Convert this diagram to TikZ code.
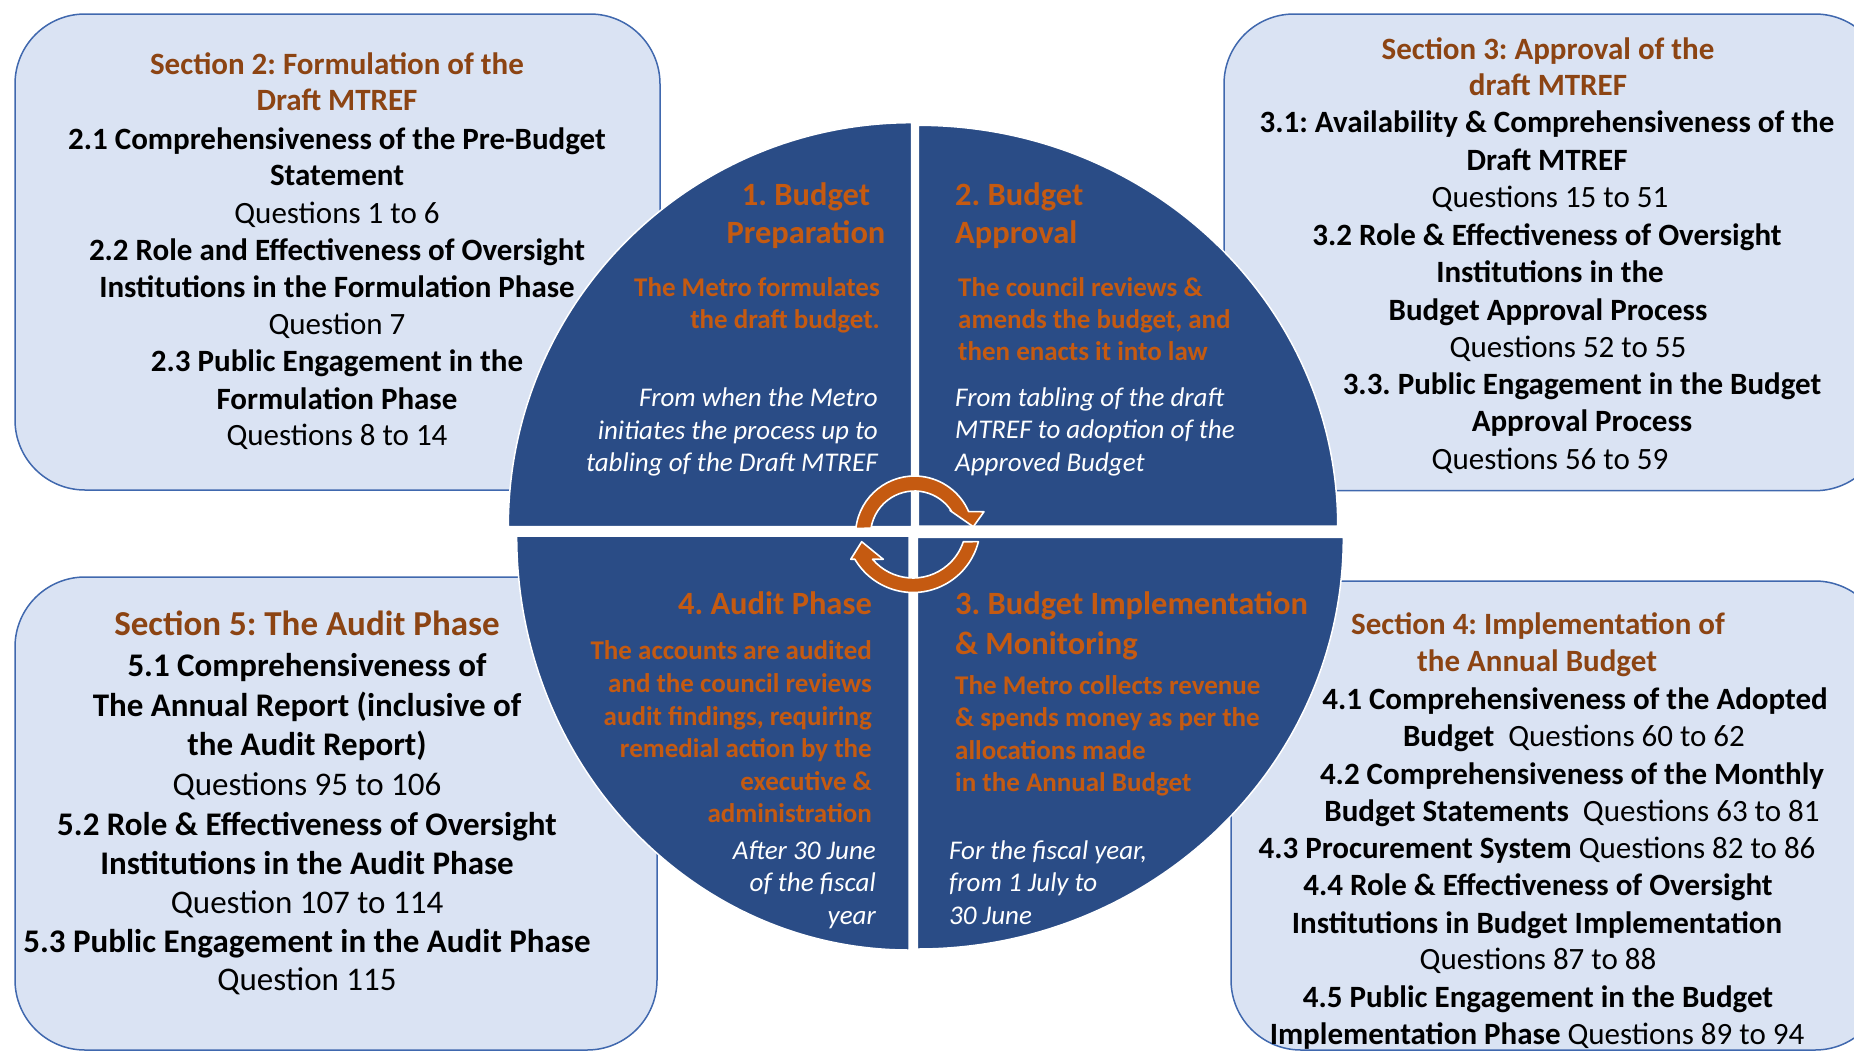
\documentclass[tikz,border=0pt]{standalone}
\usepackage{fontspec}
\setmainfont{Carlito}
\usetikzlibrary{calc}
\definecolor{circblue}{HTML}{2A4C86}
\definecolor{boxfill}{HTML}{DAE3F3}
\definecolor{boxline}{HTML}{4068AE}
\definecolor{secbrown}{HTML}{8C4413}
\definecolor{phorange}{HTML}{C55A11}
\frenchspacing
\begin{document}
\begin{tikzpicture}[x=1pt,y=1pt,
  secbox/.style={draw=boxline, line width=1.5pt, fill=boxfill, rounded corners=70pt},
  quad/.style={fill=circblue, draw=white, line width=1.5pt},
  cyc/.style={fill=phorange, draw=white, line width=1.6pt, line join=round},
  bx/.style={inner sep=0pt, anchor=mid, yshift=-8.5pt, font=\fontsize{31}{37}\selectfont\bfseries},
  sec/.style={bx, text=secbrown},
  bd/.style={bx, text=black},
  qs/.style={bx, text=black, font=\fontsize{31}{37}\selectfont\mdseries},
  sec5/.style={bx, yshift=-1.5pt, text=secbrown, font=\fontsize{35}{42}\selectfont\bfseries},
  bd5/.style={bx, yshift=-1pt, text=black, font=\fontsize{33}{40}\selectfont\bfseries},
  qs5/.style={bx, yshift=-1pt, text=black, font=\fontsize{33}{40}\selectfont\mdseries},
  ttl/.style={inner sep=0pt, yshift=-6.5pt, text=phorange, font=\fontsize{32.5}{39}\selectfont\bfseries},
  orb/.style={inner sep=0pt, yshift=-6pt, text=phorange, font=\fontsize{27}{32}\selectfont\bfseries},
  itw/.style={inner sep=0pt, yshift=-5.5pt, text=white, font=\fontsize{27}{32}\selectfont\itshape}
]
\useasboundingbox (0,0) rectangle (1854,-1052);
\clip (0,0) rectangle (1854,-1052);

% section boxes
\path[secbox] (15,-14) rectangle (660,-490);
\path[secbox] (1224,-14) rectangle (1885,-490.7);
\path[secbox] (15,-577) rectangle (657,-1050);
\path[secbox] (1231,-581) rectangle (1885,-1050);

% circle quadrants
\path[quad] (911.7,-526.7) -- (508.3,-526.7) arc[start angle=180,end angle=90,x radius=403.4,y radius=404] -- cycle;
\path[quad] (918.3,-526) -- (918.3,-125.3) arc[start angle=90,end angle=0,x radius=419.4,y radius=400.7] -- cycle;
\path[quad] (909,-536) -- (909,-950) arc[start angle=270,end angle=180,x radius=392.3,y radius=414] -- cycle;
\path[quad] (917.3,-537.3) -- (1343.3,-537.3) arc[start angle=0,end angle=-90,x radius=426,y radius=411.7] -- cycle;

% cycle arrows
\path[cyc] ([shift={(914.5,-535)}]173.5:59) arc[start angle=173.5,end angle=23.3,radius=59]
  -- (984,-511.7) -- (973.3,-526.7) -- (950,-510.5)
  -- ([shift={(914.5,-535)}]32:44) arc[start angle=32,end angle=171.2,radius=44] -- cycle;
\path[cyc] ([shift={(913,-525)}]-14.3:67.5) arc[start angle=-14.3,end angle=-149.5,radius=67.5]
  -- (850.7,-559.3) -- (861.7,-541.7) -- (883.3,-559.3)
  -- ([shift={(913,-525)}]-139.7:53) arc[start angle=-139.7,end angle=-18.4,radius=53] -- cycle;

% box 2
\foreach \yy/\st/\tx [count=\i] in {
  63.3/sec/{Section 2: Formulation of the},
  100/sec/{Draft MTREF},
  138.3/bd/{2.1 Comprehensiveness of the Pre-Budget},
  175/bd/{Statement},
  212.3/qs/{Questions 1 to 6},
  249.3/bd/{2.2 Role and Effectiveness of Oversight},
  286.7/bd/{Institutions in the Formulation Phase},
  324/qs/{Question 7},
  361/bd/{2.3 Public Engagement in the},
  398.3/bd/{Formulation Phase},
  435/qs/{Questions 8 to 14}}
  \node[\st] (bA-\i) at (337,-\yy) {\tx};

% box 3
\foreach \yy/\xx/\st/\tx [count=\i] in {
  48.3/1548/sec/{Section 3: Approval of the},
  85/1548/sec/{draft MTREF},
  121.7/1547/bd/{3.1: Availability \& Comprehensiveness of the},
  159.3/1547/bd/{Draft MTREF},
  196.7/1550/qs/{Questions 15 to 51},
  234.3/1547/bd/{3.2 Role \& Effectiveness of Oversight},
  271.7/1550/bd/{Institutions in the},
  309.3/1548/bd/{Budget Approval Process},
  346.7/1568/qs/{Questions 52 to 55},
  384/1582/bd/{3.3. Public Engagement in the Budget},
  420.7/1582/bd/{Approval Process},
  458.3/1550/qs/{Questions 56 to 59}}
  \node[\st] (bB-\i) at (\xx,-\yy) {\tx};

% box 4
\foreach \yy/\xx/\st/\tx [count=\i] in {
  623.3/1538/sec/{Section 4: Implementation of},
  660.7/1537/sec/{the Annual Budget},
  698.3/1575/bd/{4.1 Comprehensiveness of the Adopted},
  735.7/1574/bd/{Budget\ \ \mdseries Questions 60 to 62},
  773.3/1572/bd/{4.2 Comprehensiveness of the Monthly},
  810.7/1572/bd/{Budget Statements\ \ \mdseries Questions 63 to 81},
  847.3/1537/bd/{4.3 Procurement System \mdseries Questions 82 to 86},
  885/1538/bd/{4.4 Role \& Effectiveness of Oversight},
  922.3/1537/bd/{Institutions in Budget Implementation},
  959/1538/qs/{Questions 87 to 88},
  996.7/1538/bd/{4.5 Public Engagement in the Budget},
  1033.3/1537/bd/{Implementation Phase \mdseries Questions 89 to 94}}
  \node[\st] (bC-\i) at (\xx,-\yy) {\tx};

% box 5
\foreach \yy/\st/\tx [count=\i] in {
  623.3/sec5/{Section 5: The Audit Phase},
  665/bd5/{5.1 Comprehensiveness of},
  705/bd5/{The Annual Report (inclusive of},
  743.3/bd5/{the Audit Report)},
  784/qs5/{Questions 95 to 106},
  823.3/bd5/{5.2 Role \& Effectiveness of Oversight},
  862.7/bd5/{Institutions in the Audit Phase},
  901.7/qs5/{Question 107 to 114},
  941/bd5/{5.3 Public Engagement in the Audit Phase},
  978.3/qs5/{Question 115}}
  \node[\st] (bD-\i) at (307,-\yy) {\tx};

% quadrant 1 (upper left)
\foreach \yy/\tx [count=\i] in {196.7/{1. Budget}, 235/{Preparation}}
  \node[ttl, anchor=mid] (qa-t\i) at (806,-\yy) {\tx};
\foreach \yy/\tx [count=\i] in {288.3/{The Metro formulates}, 320/{the draft budget.}}
  \node[orb, anchor=mid east] (qa-o\i) at (880,-\yy) {\tx};
\foreach \yy/\tx [count=\i] in {398.3/{From when the Metro}, 431.7/{initiates the process up to}, 463.3/{tabling of the Draft MTREF}}
  \node[itw, anchor=mid east] (qa-i\i) at (878,-\yy) {\tx};

% quadrant 2 (upper right)
\foreach \yy/\tx [count=\i] in {196.7/{2. Budget}, 235/{Approval}}
  \node[ttl, anchor=mid west] (qb-t\i) at (955,-\yy) {\tx};
\foreach \yy/\tx [count=\i] in {288.3/{The council reviews \&}, 320/{amends the budget, and}, 352.3/{then enacts it into law}}
  \node[orb, anchor=mid west] (qb-o\i) at (958,-\yy) {\tx};
\foreach \yy/\tx [count=\i] in {398.3/{From tabling of the draft}, 430.7/{MTREF to adoption of the}, 463.3/{Approved Budget}}
  \node[itw, anchor=mid west] (qb-i\i) at (955,-\yy) {\tx};

% quadrant 4 (lower left)
\node[ttl, anchor=mid east] (qd-t1) at (872,-606) {4. Audit Phase};
\foreach \yy/\tx [count=\i] in {651/{The accounts are audited}, 684/{and the council reviews}, 716.7/{audit findings, requiring}, 749.3/{remedial action by the}, 781.7/{executive \&}, 814/{administration}}
  \node[orb, anchor=mid east] (qd-o\i) at (872,-\yy) {\tx};
\foreach \yy/\tx [count=\i] in {851.7/{After 30 June}, 883.3/{of the fiscal}, 916.7/{year}}
  \node[itw, anchor=mid east] (qd-i\i) at (876,-\yy) {\tx};

% quadrant 3 (lower right)
\foreach \yy/\tx [count=\i] in {606/{3. Budget Implementation}, 646/{\& Monitoring}}
  \node[ttl, anchor=mid west] (qc-t\i) at (955,-\yy) {\tx};
\foreach \yy/\tx [count=\i] in {685.7/{The Metro collects revenue}, 718.3/{\& spends money as per the}, 750.7/{allocations made}, 783.3/{in the Annual Budget}}
  \node[orb, anchor=mid west] (qc-o\i) at (955,-\yy) {\tx};
\foreach \yy/\tx [count=\i] in {851.7/{For the fiscal year,}, 883.3/{from 1 July to}, 916.7/{30 June}}
  \node[itw, anchor=mid west] (qc-i\i) at (949,-\yy) {\tx};
\end{tikzpicture}
\end{document}
